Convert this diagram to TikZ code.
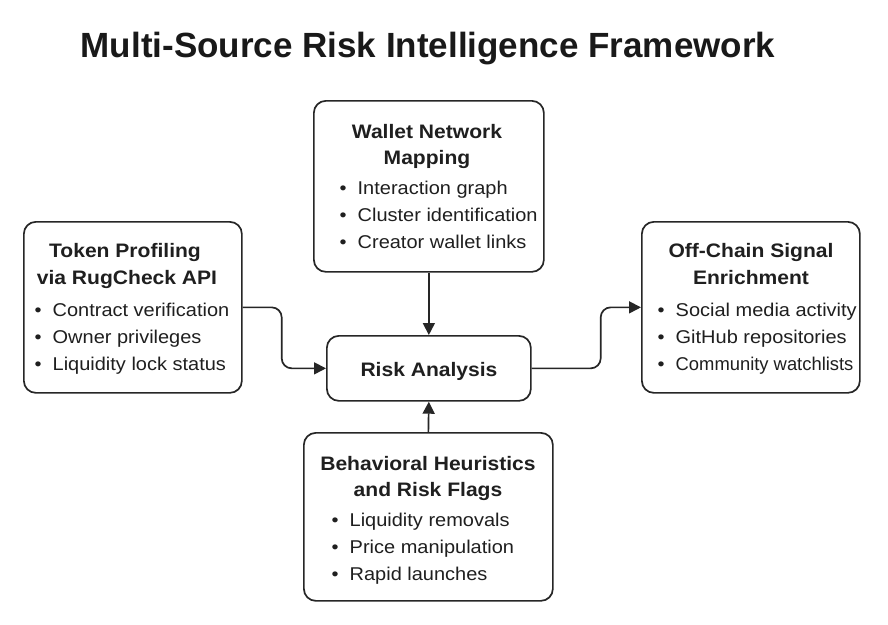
\documentclass[tikz,border=0pt]{standalone}
\usepackage{fontspec}
\usepackage{graphicx}
\setmainfont{Liberation Sans}
\newfontfamily\widefont[FakeStretch=1.08]{Liberation Sans}
\usetikzlibrary{arrows.meta}
\newcommand{\bul}[1]{\makebox[18pt][l]{•}#1}
\begin{document}
\begin{tikzpicture}[x=1pt,y=-1pt,
  box/.style={draw=black!85, line width=1.7pt, rounded corners=12pt, fill=white, inner sep=0pt},
  head/.style={anchor=base, inner sep=0pt, font=\widefont\bfseries\fontsize{19.5}{23}\selectfont, text=black!88},
  item/.style={anchor=base west, inner sep=0pt, font=\widefont\fontsize{18.5}{22}\selectfont, text=black!88},
  conn/.style={draw=black!85, line width=1.7pt, rounded corners=10pt, -{Triangle[length=12pt,width=12pt]}}]
\useasboundingbox (0,0) rectangle (888,624);
\fill[white] (0,0) rectangle (888,624);
\node[anchor=base, inner sep=0pt, font=\bfseries\fontsize{35}{40}\selectfont, text=black!90] (title) at (428,57) {Multi-Source Risk Intelligence Framework};

% boxes
\node[box, anchor=north west, minimum width=218pt, minimum height=171pt] (tok) at (23,221) {};
\node[box, anchor=north west, minimum width=230pt, minimum height=171pt] (wal) at (313,100) {};
\node[box, anchor=north west, minimum width=218pt, minimum height=171pt] (off) at (641,221) {};
\node[box, anchor=north west, minimum width=204pt, minimum height=65pt] (risk) at (326,335) {};
\node[box, anchor=north west, minimum width=249pt, minimum height=168pt] (beh) at (303,432) {};

\node[head, font=\widefont\bfseries\fontsize{19.5}{24}\selectfont] (riskt) at (429,376) {Risk Analysis};

% token
\node[head] (t1) at (125,257) {Token Profiling};
\node[head] (t2) at (127,284) {via RugCheck API};
\node[item] (t3) at (34.5,316) {\bul{Contract verification}};
\node[item] (t4) at (34.5,343) {\bul{Owner privileges}};
\node[item] (t5) at (34.5,370) {\bul{Liquidity lock status}};

% wallet
\node[head] (w1) at (427,138) {Wallet Network};
\node[head] (w2) at (427,164) {Mapping};
\node[item] (w3) at (339.5,194) {\bul{Interaction graph}};
\node[item] (w4) at (339.5,221) {\bul{Cluster identification}};
\node[item] (w5) at (339.5,248) {\bul{Creator wallet links}};

% offchain
\node[head] (o1) at (751,257) {Off-Chain Signal};
\node[head] (o2) at (751,284) {Enrichment};
\node[item] (o3) at (657.5,316) {\bul{Social media activity}};
\node[item] (o4) at (657.5,343) {\bul{GitHub repositories}};
\node[item] (o5) at (657.5,370) {\bul{\scalebox{0.92}[1]{Community watchlists}}};

% behavioral
\node[head] (b1) at (428,470) {Behavioral Heuristics};
\node[head] (b2) at (428,496) {and Risk Flags};
\node[item] (b3) at (331.5,526) {\bul{Liquidity removals}};
\node[item] (b4) at (331.5,553) {\bul{Price manipulation}};
\node[item] (b5) at (331.5,580) {\bul{Rapid launches}};

% connectors
\draw[conn] (tok.east) -- ++(39,0) |- (risk.west);
\draw[conn] (risk.east) -- ++(69,0) |- (off.west);
\draw[conn] (wal.south) -- (risk.north);
\draw[conn] (beh.north) -- (risk.south);
\end{tikzpicture}
\end{document}
